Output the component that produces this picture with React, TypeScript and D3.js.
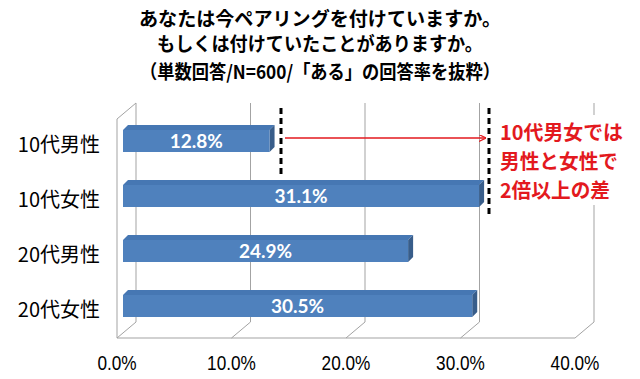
import React from "react";
import * as d3 from "d3";

const titleLines = [
  "あなたは今ペアリングを付けていますか。",
  "もしくは付けていたことがありますか。",
  "（単数回答/N=600/「ある」の回答率を抜粋）",
];
const categories = ["10代男性", "10代女性", "20代男性", "20代女性"];
const values = [12.8, 31.1, 24.9, 30.5];
const xTicks = [0, 10, 20, 30, 40];
const noteLines = ["10代男女では", "男性と女性で", "2倍以上の差"];

const W = 640;
const H = 379;
const floorY = 338;
const wallTop = 103;
const depthDx = 19;
const depthDy = -16;
const barDx = 5;
const barDy = -5;
const barOffset = 6;
const barH = 22;

export default function App() {
  const x = d3.scaleLinear().domain([0, 40]).range([117, 575]);
  const y = d3.scaleBand<string>().domain(categories).range([113.5, 333.5]).paddingInner(0);
  const bw = y.bandwidth();
  const grid = "#a3a3a3";
  const front = "#4f81bd";
  const topC = "#4677b3";
  const side = "#385d8a";
  const red = "#e3191e";
  const cjk = "'Noto Sans CJK JP', sans-serif";

  return (
    <div style={{ position: "fixed", left: 0, top: 0 }}>
      <svg width={W} height={H} viewBox={`0 0 ${W} ${H}`} style={{ display: "block", background: "#fff" }}>
        <rect x={0} y={0} width={W} height={H} fill="#fff" />
        {titleLines.map((t, i) => (
          <text
            key={i}
            x={320}
            y={[26, 51, 79][i]}
            textAnchor="middle"
            fontFamily={cjk}
            fontWeight={700}
            fontSize={19}
            fill="#000"
            textLength={[362, 326, 360][i]}
            lengthAdjust="spacingAndGlyphs"
          >
            {t}
          </text>
        ))}
        <g stroke={grid} strokeWidth={1} fill="none">
          <line x1={x(0)} y1={floorY} x2={x(0)} y2={wallTop - depthDy} />
          <line x1={x(0)} y1={wallTop - depthDy} x2={x(0) + depthDx} y2={wallTop} />
          <line x1={x(0)} y1={floorY} x2={x(40)} y2={floorY} />
          {xTicks.map((t) => (
            <g key={t}>
              <line x1={x(t)} y1={floorY} x2={x(t) + depthDx} y2={floorY + depthDy} />
              <line x1={x(t) + depthDx} y1={floorY + depthDy} x2={x(t) + depthDx} y2={wallTop} />
            </g>
          ))}
        </g>
        {categories.map((c, i) => {
          const cy = (y(c) as number) + bw / 2;
          const x0 = x(0) + barOffset;
          const x1 = x0 + (x(values[i]) - x(0));
          const t = cy - barH / 2;
          const b = cy + barH / 2;
          return (
            <g key={c}>
              <polygon
                points={`${x0},${t} ${x0 + barDx},${t + barDy} ${x1 + barDx},${t + barDy} ${x1},${t}`}
                fill={topC}
              />
              <polygon
                points={`${x1},${t} ${x1 + barDx},${t + barDy} ${x1 + barDx},${b + barDy} ${x1},${b}`}
                fill={side}
              />
              <rect x={x0} y={t} width={x1 - x0} height={barH} fill={front} />
              <text
                x={(x0 + x1) / 2}
                y={cy + 7}
                textAnchor="middle"
                fontFamily="Lato, 'Open Sans', sans-serif"
                fontWeight={700}
                fontSize={19}
                fill="#fff"
              >
                {`${values[i].toFixed(1)}%`}
              </text>
              <text x={100} y={cy + 11} textAnchor="end" fontFamily={cjk} fontSize={20} fill="#000">
                {c}
              </text>
            </g>
          );
        })}
        {xTicks.map((t) => (
          <text
            key={t}
            transform={`translate(${x(t)},370) scale(0.84,1)`}
            textAnchor="middle"
            fontFamily="'Liberation Sans', Arial, sans-serif"
            fontSize={20.5}
            fill="#000"
          >
            {`${t.toFixed(1)}%`}
          </text>
        ))}
        <rect x={495} y={115} width={137} height={90} fill="#fff" />
        <line x1={281} y1={108} x2={281} y2={177} stroke="#000" strokeWidth={3} strokeDasharray="6 4" />
        <line x1={489} y1={108} x2={489} y2={218} stroke="#000" strokeWidth={3} strokeDasharray="6 4" />
        <defs>
          <marker id="ah" viewBox="0 0 10 10" refX={10} refY={5} markerWidth={7} markerHeight={7} orient="auto" markerUnits="userSpaceOnUse">
            <path d="M0,0 L10,5 L0,10" fill="none" stroke={red} strokeWidth={1.6} />
          </marker>
        </defs>
        <line x1={285} y1={138} x2={486} y2={138} stroke={red} strokeWidth={1.5} markerEnd="url(#ah)" />
        {noteLines.map((t, i) => (
          <text
            key={i}
            x={500}
            y={[140, 169, 198][i]}
            fontFamily={cjk}
            fontWeight={700}
            fontSize={20}
            fill={red}
            textLength={[123, 118, 110][i]}
            lengthAdjust="spacingAndGlyphs"
          >
            {t}
          </text>
        ))}
      </svg>
    </div>
  );
}
